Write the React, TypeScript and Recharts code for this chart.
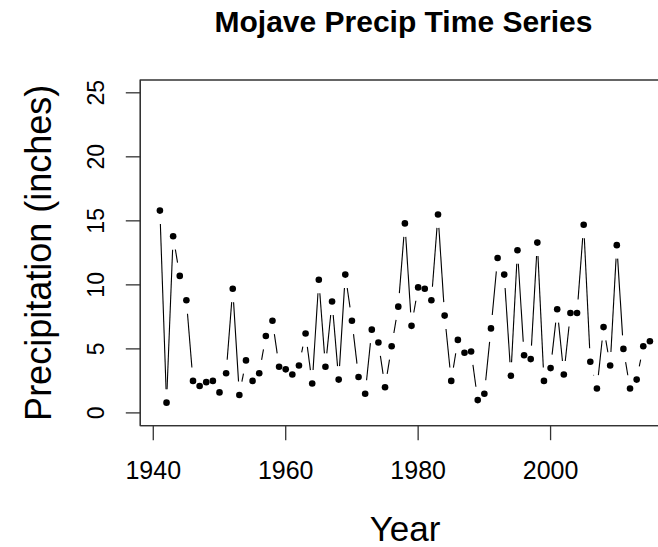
import { LineChart, Line, XAxis, YAxis, ReferenceArea } from "recharts";

const YEARS = [
  1941, 1942, 1943, 1944, 1945, 1946, 1947, 1948, 1949, 1950,
  1951, 1952, 1953, 1954, 1955, 1956, 1957, 1958, 1959, 1960,
  1961, 1962, 1963, 1964, 1965, 1966, 1967, 1968, 1969, 1970,
  1971, 1972, 1973, 1974, 1975, 1976, 1977, 1978, 1979, 1980,
  1981, 1982, 1983, 1984, 1985, 1986, 1987, 1988, 1989, 1990,
  1991, 1992, 1993, 1994, 1995, 1996, 1997, 1998, 1999, 2000,
  2001, 2002, 2003, 2004, 2005, 2006, 2007, 2008, 2009, 2010,
  2011, 2012, 2013, 2014, 2015
];

// annual precipitation, inches
const PRECIP = [
  15.8, 0.8, 13.8, 10.7, 8.8, 2.5, 2.1, 2.4, 2.5, 1.6,
  3.1, 9.7, 1.4, 4.1, 2.5, 3.1, 6.0, 7.2, 3.6, 3.4,
  3.0, 3.7, 6.2, 2.3, 10.4, 3.6, 8.7, 2.6, 10.8, 7.2,
  2.8, 1.5, 6.5, 5.5, 2.0, 5.2, 8.3, 14.8, 6.8, 9.8,
  9.7, 8.8, 15.5, 7.6, 2.5, 5.7, 4.7, 4.8, 1.0, 1.5,
  6.6, 12.1, 10.8, 2.9, 12.7, 4.5, 4.2, 13.3, 2.5, 3.5,
  8.1, 3.0, 7.8, 7.8, 14.7, 4.0, 1.9, 6.7, 3.7, 13.1,
  5.0, 1.9, 2.6, 5.2, 5.6
];

const X_TICKS = [1940, 1960, 1980, 2000];
const Y_TICKS = [0, 5, 10, 15, 20, 25];

const data = YEARS.map((year, i) => ({ year, precip: PRECIP[i] }));

const FONT = "'Liberation Sans', Arial, sans-serif";
const GAP = 13.5;

// R type="b": points joined by lines that stop short of each point
function GapDot(props: any) {
  const { cx, cy, index, points } = props;
  let seg = null;
  const next = points && points[index + 1];
  if (next) {
    const dx = next.x - cx;
    const dy = next.y - cy;
    const len = Math.hypot(dx, dy);
    if (len > 2 * GAP) {
      const ux = dx / len;
      const uy = dy / len;
      seg = (
        <line
          x1={cx + ux * GAP}
          y1={cy + uy * GAP}
          x2={next.x - ux * GAP}
          y2={next.y - uy * GAP}
          stroke="#000"
          strokeWidth={1.1}
        />
      );
    }
  }
  return (
    <g key={`dot-${index}`}>
      {seg}
      <circle cx={cx} cy={cy} r={3.3} fill="#000" />
    </g>
  );
}

function XTick({ x, y, payload }: any) {
  return (
    <text x={x} y={y + 39} textAnchor="middle" fontSize={25} fontFamily={FONT} fill="#000">
      {payload.value}
    </text>
  );
}

function YTick({ x, y, payload }: any) {
  const bx = x - 21.5;
  return (
    <text
      x={bx}
      y={y}
      transform={`rotate(-90, ${bx}, ${y})`}
      textAnchor="middle"
      fontSize={23}
      fontFamily={FONT}
      fill="#000"
    >
      {payload.value}
    </text>
  );
}

export default function App() {
  return (
    <div style={{ width: 658, height: 547, overflow: "hidden", position: "relative", background: "#fff" }}>
      <style>{"body{margin:0;overflow:hidden}"}</style>
      <LineChart
        width={708}
        height={547}
        data={data}
        margin={{ top: 80, right: 38.5, bottom: 0, left: 0 }}
      >
        <XAxis
          dataKey="year"
          type="number"
          domain={[1938.04, 2017.96]}
          ticks={X_TICKS}
          interval={0}
          allowDataOverflow
          height={121.3}
          tickSize={14.5}
          tickMargin={0}
          tick={<XTick />}
          axisLine={{ stroke: "#333", strokeWidth: 1.3 }}
          tickLine={{ stroke: "#333", strokeWidth: 1.3 }}
        />
        <YAxis
          type="number"
          domain={[-1, 26]}
          ticks={Y_TICKS}
          interval={0}
          allowDataOverflow
          width={140.3}
          tickSize={14.5}
          tickMargin={0}
          tick={<YTick />}
          axisLine={{ stroke: "#333", strokeWidth: 1.3 }}
          tickLine={{ stroke: "#333", strokeWidth: 1.3 }}
        />
        <ReferenceArea
          x1={1938.04}
          x2={2017.96}
          y1={-1}
          y2={26}
          fill="none"
          fillOpacity={0}
          stroke="#333"
          strokeWidth={1.3}
          ifOverflow="visible"
        />
        <Line
          dataKey="precip"
          stroke="none"
          dot={GapDot}
          activeDot={false}
          isAnimationActive={false}
        />
      </LineChart>
      <svg
        width={658}
        height={547}
        style={{ position: "absolute", left: 0, top: 0, pointerEvents: "none" }}
      >
        <text x={403.5} y={32} textAnchor="middle" fontSize={30} fontWeight="bold" fontFamily={FONT} fill="#000">
          Mojave Precip Time Series
        </text>
        <text x={405} y={541} textAnchor="middle" fontSize={35} fontFamily={FONT} fill="#000">
          Year
        </text>
        <text
          x={51}
          y={252.8}
          transform="rotate(-90, 51, 252.8)"
          textAnchor="middle"
          fontSize={36}
          fontFamily={FONT}
          fill="#000"
        >
          Precipitation (inches)
        </text>
      </svg>
    </div>
  );
}
